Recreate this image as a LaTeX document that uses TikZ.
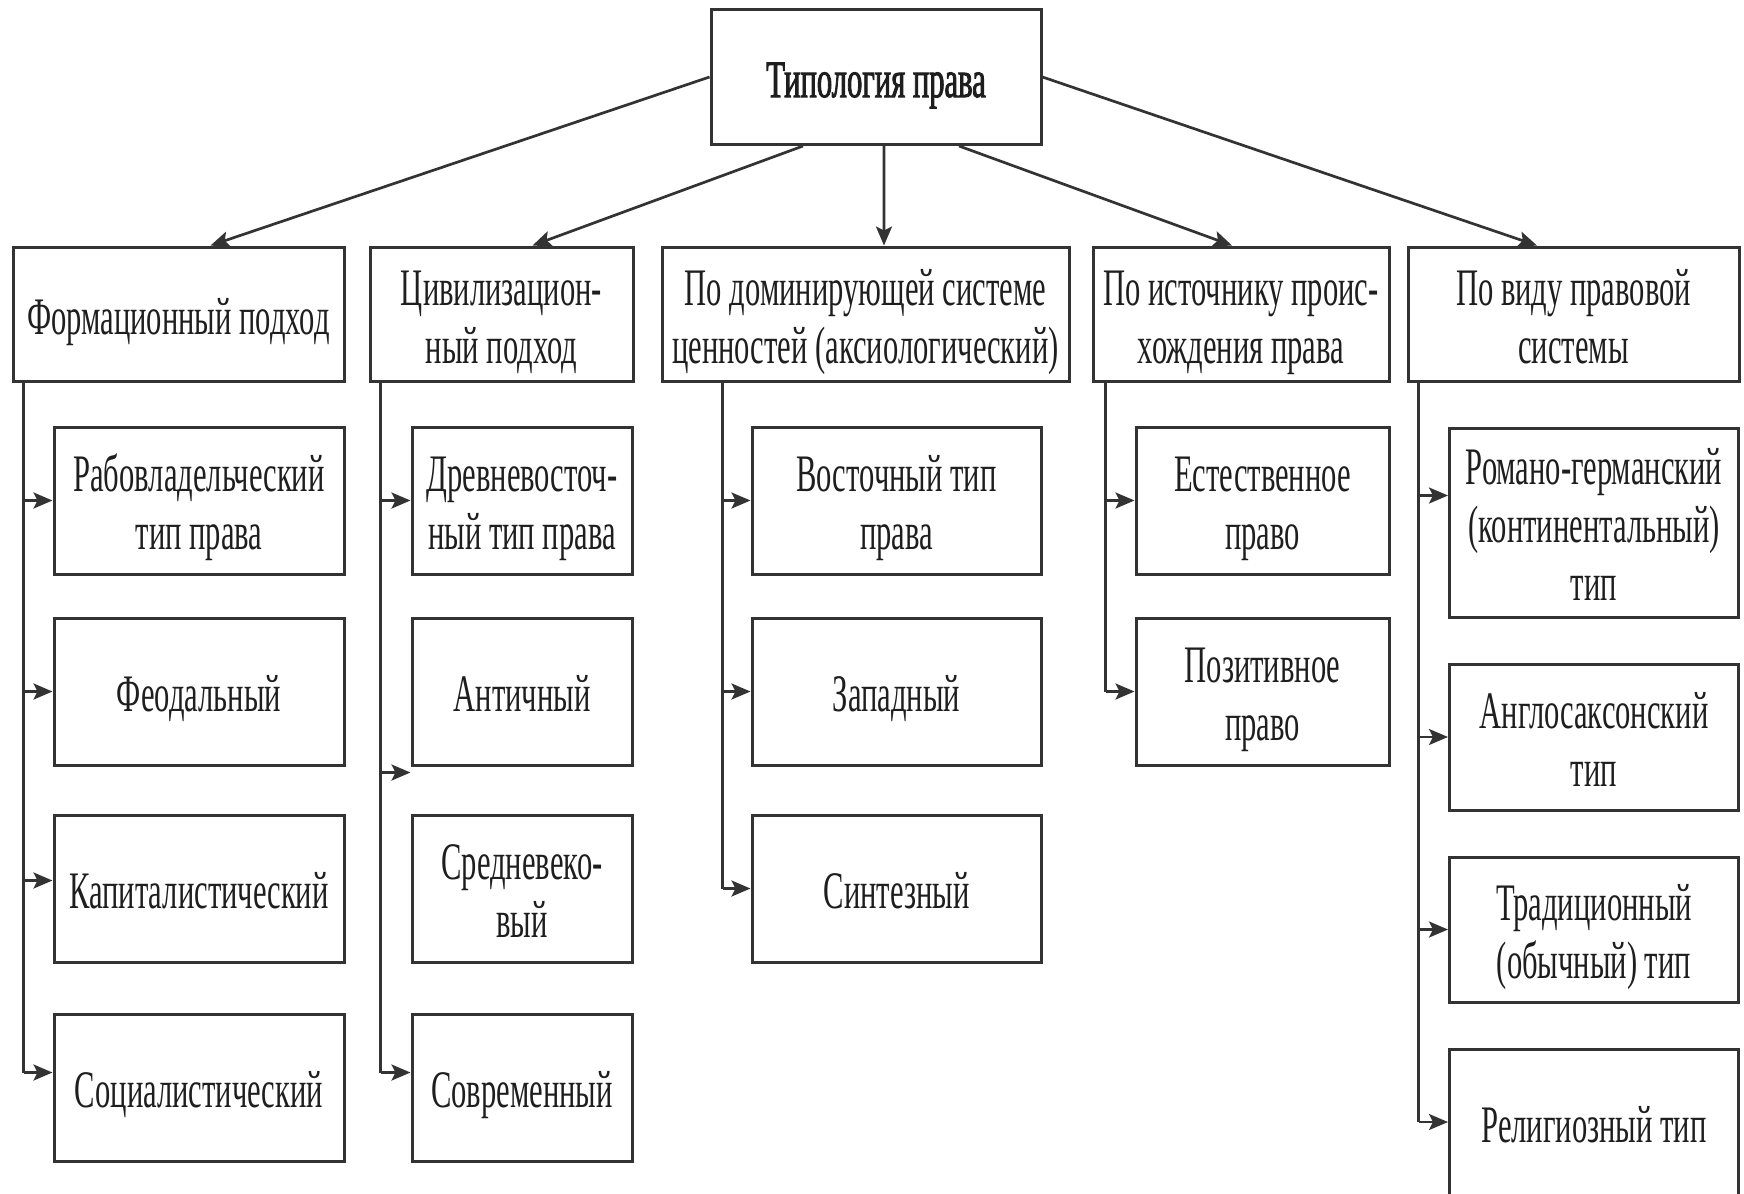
\documentclass[tikz,border=0pt]{standalone}
\usepackage{fontspec}
\setmainfont[FakeStretch=0.58]{Liberation Serif}
\newfontfamily\titlefont[FakeStretch=0.58, FakeBold=1.6]{Liberation Serif}
\usepackage{tikz}
\usetikzlibrary{arrows.meta}

\definecolor{ln}{HTML}{333333}
\definecolor{tx}{HTML}{1E1E1E}

\newcommand{\lbl}[1]{\raisebox{-0.85mm}[\height][\depth]{\begin{tabular}{@{}c@{}}#1\end{tabular}}}

\begin{document}
\begin{tikzpicture}[x=0.1mm, y=-0.1mm,
  box/.style={draw=ln, line width=0.3mm, inner sep=0pt, text=tx,
    font=\fontsize{15}{16.5}\selectfont, minimum height=14.7mm},
  arr/.style={draw=ln, line width=0.27mm, -{Stealth[length=1.9mm, width=1.6mm, inset=0.4mm]}},
  trunk/.style={draw=ln, line width=0.24mm}]

\useasboundingbox (0,0) rectangle (1744,1193);

\node[box, minimum width=33mm, minimum height=13.5mm, font=\fontsize{15}{16.5}\titlefont] (top) at (876,77) {\lbl{Типология права}};

\node[box, minimum width=33.1mm, minimum height=13.4mm] (f1) at (178.5,314) {\lbl{Формационный подход}};
\node[box, minimum width=26.3mm, minimum height=13.4mm] (f2) at (501.5,314) {\lbl{Цивилизацион-\\ный подход}};
\node[box, minimum width=40.7mm, minimum height=13.4mm] (f3) at (865.5,314) {\lbl{По доминирующей системе\\ценностей (аксиологический)}};
\node[box, minimum width=29.6mm, minimum height=13.4mm] (f4) at (1241,314) {\lbl{По источнику проис-\\хождения права}};
\node[box, minimum width=33.1mm, minimum height=13.4mm] (f5) at (1573.5,314) {\lbl{По виду правовой\\системы}};

\node[box, minimum width=29mm] (r11) at (199,500.5) {\lbl{Рабовладельческий\\тип права}};
\node[box, minimum width=29mm] (r12) at (199,691.5) {\lbl{Феодальный}};
\node[box, minimum width=29mm] (r13) at (199,888.5) {\lbl{Капиталистический}};
\node[box, minimum width=29mm] (r14) at (199,1087.5) {\lbl{Социалистический}};

\node[box, minimum width=22mm] (r21) at (522,500.5) {\lbl{Древневосточ-\\ный тип права}};
\node[box, minimum width=22mm] (r22) at (522,691.5) {\lbl{Античный}};
\node[box, minimum width=22mm] (r23) at (522,888.5) {\lbl{Средневеко-\\вый}};
\node[box, minimum width=22mm] (r24) at (522,1087.5) {\lbl{Современный}};

\node[box, minimum width=28.9mm] (r31) at (896.5,500.5) {\lbl{Восточный тип\\права}};
\node[box, minimum width=28.9mm] (r32) at (896.5,691.5) {\lbl{Западный}};
\node[box, minimum width=28.9mm] (r33) at (896.5,888.5) {\lbl{Синтезный}};

\node[box, minimum width=25.3mm] (r41) at (1262.5,500.5) {\lbl{Естественное\\право}};
\node[box, minimum width=25.3mm] (r42) at (1262.5,691.5) {\lbl{Позитивное\\право}};

\node[box, minimum width=28.9mm, minimum height=18.9mm] (r51) at (1594,522.5) {\lbl{Романо-германский\\(континентальный)\\тип}};
\node[box, minimum width=28.9mm, minimum height=14.6mm] (r52) at (1594,737) {\lbl{Англосаксонский\\тип}};
\node[box, minimum width=28.9mm, minimum height=14.5mm] (r53) at (1594,929.5) {\lbl{Традиционный\\(обычный) тип}};
\node[box, minimum width=28.9mm, minimum height=14.6mm] (r54) at (1594,1122) {\lbl{Религиозный тип}};

\draw[arr] (top.west) -- ([xshift=3.2mm]f1.north);
\draw[arr] ([xshift=-7.3mm]top.south) -- ([xshift=3.1mm]f2.north);
\draw[arr] ([xshift=0.8mm]top.south) -- ([xshift=1.85mm]f3.north);
\draw[arr] ([xshift=8.3mm]top.south) -- ([xshift=-0.9mm]f4.north);
\draw[arr] (top.east) -- ([xshift=-3.65mm]f5.north);

\coordinate (t1) at ([xshift=1.2mm]f1.south west);
\coordinate (t2) at ([xshift=1.2mm]f2.south west);
\coordinate (t3) at ([xshift=6.2mm]f3.south west);
\coordinate (t4) at ([xshift=1.4mm]f4.south west);
\coordinate (t5) at ([xshift=1.2mm]f5.south west);

\coordinate (a13) at ([yshift=0.8mm]r13.west);
\coordinate (a14) at ([yshift=1.5mm]r14.west);
\coordinate (a22) at ([yshift=-0.6mm]r22.south west);
\coordinate (a24) at ([yshift=1.5mm]r24.west);
\coordinate (a51) at ([yshift=2.7mm]r51.west);

\draw[trunk] (t1) -- (t1 |- a14);
\draw[arr] (t1 |- r11.west) -- (r11.west);
\draw[arr] (t1 |- r12.west) -- (r12.west);
\draw[arr] (t1 |- a13) -- (a13);
\draw[arr] (t1 |- a14) -- (a14);

\draw[trunk] (t2) -- (t2 |- a24);
\draw[arr] (t2 |- r21.west) -- (r21.west);
\draw[arr] (t2 |- a22) -- (a22);
\draw[arr] (t2 |- a24) -- (a24);

\draw[trunk] (t3) -- (t3 |- r33.west);
\draw[arr] (t3 |- r31.west) -- (r31.west);
\draw[arr] (t3 |- r32.west) -- (r32.west);
\draw[arr] (t3 |- r33.west) -- (r33.west);

\draw[trunk] (t4) -- (t4 |- r42.west);
\draw[arr] (t4 |- r41.west) -- (r41.west);
\draw[arr] (t4 |- r42.west) -- (r42.west);

\draw[trunk] (t5) -- (t5 |- r54.west);
\draw[arr] (t5 |- a51) -- (a51);
\draw[arr] (t5 |- r52.west) -- (r52.west);
\draw[arr] (t5 |- r53.west) -- (r53.west);
\draw[arr] (t5 |- r54.west) -- (r54.west);
\end{tikzpicture}
\end{document}
